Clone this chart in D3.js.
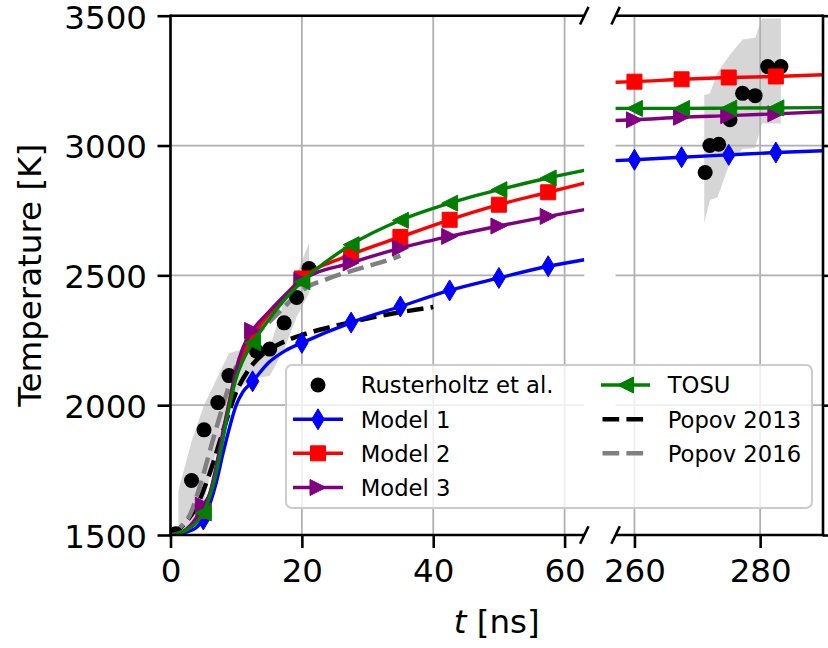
<!DOCTYPE html>
<html><head><meta charset="utf-8">
<script src="https://cdn.jsdelivr.net/npm/d3@7"></script>
<style>body{margin:0;background:#fff}svg{display:block}text{font-family:"DejaVu Sans",sans-serif;fill:#000}</style>
</head><body><svg id="c" width="828" height="648"></svg>
<script>
// ---------------- data ----------------
const xTicksLeft = [0, 20, 40, 60];
const xTicksRight = [260, 280];
const yTicks = [1500, 2000, 2500, 3000, 3500];

const markerTimesLeft = [5, 12.5, 20, 27.5, 35, 42.5, 50, 57.5];
const markerTimesRight = [260, 267.5, 275, 282.5];

const tLeft = [0, 2.5, 4, 5, 6, 7, 8, 9, 10, 11, 12.5, 15, 17.5, 20, 27.5, 35, 42.5, 50, 57.5, 63];
const model1Left = [1500, 1512, 1530, 1560, 1620, 1705, 1815, 1915, 2000, 2050, 2092, 2165, 2210, 2240, 2318, 2380, 2442, 2490, 2535, 2560];
const model2Left = [1500, 1520, 1553, 1592, 1660, 1760, 1890, 2020, 2125, 2195, 2265, 2350, 2425, 2488, 2580, 2648, 2714, 2772, 2820, 2855];
const model3Left = [1500, 1525, 1570, 1615, 1662, 1770, 1900, 2015, 2140, 2220, 2288, 2360, 2425, 2480, 2548, 2605, 2650, 2690, 2727, 2753];
const tosuLeft   = [1500, 1520, 1550, 1585, 1650, 1745, 1870, 2000, 2105, 2170, 2240, 2330, 2410, 2475, 2618, 2712, 2778, 2830, 2875, 2904];

const tRight = [255, 260, 267.5, 275, 282.5, 292];
const model1Right = [2940, 2945, 2955, 2964, 2973, 2982];
const model2Right = [3242, 3246, 3255, 3262, 3266, 3274];
const model3Right = [3095, 3099, 3109, 3115, 3122, 3132];
const tosuRight   = [3143, 3143, 3143, 3144, 3145, 3146];

const popov2013T = [0, 2, 4, 6, 8, 10, 12, 14, 16, 18, 20, 25, 30, 35, 40];
const popov2013V = [1500, 1540, 1612, 1740, 1900, 2050, 2140, 2195, 2228, 2252, 2270, 2305, 2334, 2358, 2378];
const popov2016T = [0, 1.5, 3, 4.5, 6.5, 8, 9.6, 11, 13, 15, 17, 19, 21, 23, 26, 29, 32, 35];
const popov2016V = [1500, 1530, 1580, 1690, 1870, 2000, 2125, 2200, 2270, 2320, 2370, 2420, 2458, 2478, 2505, 2528, 2550, 2575];

const rusterT = [0.8, 3.2, 5.1, 7.2, 8.9, 13.1, 15.1, 17.3, 19.2, 21.1];
const rusterV = [1505, 1710, 1905, 2010, 2114, 2208, 2216, 2317, 2415, 2526];
const rusterTR = [271.25, 272.0, 273.4, 275.2, 277.2, 279.2, 281.2, 283.3];
const rusterVR = [2896, 3000, 3005, 3099, 3201, 3192, 3304, 3304];

const bandT  = [1.2, 3.2, 5.1, 7.2, 8.9, 10.8, 13.1, 15.1, 17.3, 19.2, 21.1];
const bandLo = [1515, 1525, 1630, 1850, 1990, 2073, 2105, 2112, 2214, 2340, 2432];
const bandHi = [1670, 1860, 2000, 2110, 2200, 2214, 2216, 2220, 2400, 2505, 2625];
const bandTR  = [271.1, 272.0, 273.2, 275.2, 277.2, 279.2, 280.3, 283.3];
const bandLoR = [2702, 2790, 2800, 2935, 2987, 2990, 3085, 3085];
const bandHiR = [3195, 3200, 3280, 3350, 3408, 3415, 3489, 3489];

const legendLabels = ["Rusterholtz et al.", "Model 1", "Model 2", "Model 3", "TOSU", "Popov 2013", "Popov 2016"];

// ---------------- layout ----------------
const svg = d3.select('#c');
const yTop = 15.7, yBot = 535, xL0 = 170.5, xL1 = 584.3, xR0 = 615.6, xR1 = 823;
const x1 = d3.scaleLinear().domain([0, 63]).range([xL0, xL1]);
const x2 = d3.scaleLinear().domain([257, 290]).range([xR0, xR1]);
const y = d3.scaleLinear().domain([1500, 3500]).range([yBot, yTop]);
const FS = 32.5, LFS = 22.7;
const gridC = '#b0b0b0', spineW = 2.6;

const defs = svg.append('defs');
defs.append('clipPath').attr('id', 'clipL').append('rect').attr('x', xL0).attr('y', yTop).attr('width', xL1 - xL0).attr('height', yBot - yTop);
defs.append('clipPath').attr('id', 'clipR').append('rect').attr('x', xR0).attr('y', yTop).attr('width', xR1 - xR0).attr('height', yBot - yTop);

function markerPath(kind) {
  switch (kind) {
    case 'd': return 'M0,-10.5L6.3,0L0,10.5L-6.3,0Z';
    case 's': return 'M-7.5,-7.5H7.5V7.5H-7.5Z';
    case '<': return 'M-8,0L8,-8L8,8Z';
    case '>': return 'M8,0L-8,-8L-8,8Z';
    case 'o': return 'M7.5,0A7.5,7.5 0 1 1 -7.5,0A7.5,7.5 0 1 1 7.5,0Z';
  }
}

const series = [
  {name: legendLabels[1], color: '#0000ff', mk: 'd', L: model1Left, R: model1Right},
  {name: legendLabels[2], color: '#ff0000', mk: 's', L: model2Left, R: model2Right},
  {name: legendLabels[3], color: '#800080', mk: '>', L: model3Left, R: model3Right},
  {name: legendLabels[4], color: '#008000', mk: '<', L: tosuLeft, R: tosuRight},
];

function panel(x, clipId, xTicks, isLeft) {
  const g = svg.append('g');
  const bt = isLeft ? bandT : bandTR, blo = isLeft ? bandLo : bandLoR, bhi = isLeft ? bandHi : bandHiR;
  const area = d3.area().x(d => x(d[0])).y0(d => y(d[1])).y1(d => y(d[2]));
  g.append('path').attr('clip-path', `url(#${clipId})`)
    .attr('d', area(bt.map((t, i) => [t, blo[i], bhi[i]]))).attr('fill', '#d6d6d6');
  const [r0, r1] = x.range();
  const grid = g.append('g').attr('stroke', gridC).attr('stroke-width', 1.8);
  xTicks.forEach(t => grid.append('line').attr('x1', x(t)).attr('x2', x(t)).attr('y1', yTop).attr('y2', yBot));
  yTicks.forEach(v => grid.append('line').attr('x1', r0).attr('x2', r1).attr('y1', y(v)).attr('y2', y(v)));

  const content = g.append('g').attr('clip-path', `url(#${clipId})`);
  const line = d3.line().x(d => x(d[0])).y(d => y(d[1])).curve(d3.curveMonotoneX);
  if (isLeft) {
    content.append('path').attr('d', line(popov2013T.map((t, i) => [t, popov2013V[i]])))
      .attr('fill', 'none').attr('stroke', '#000').attr('stroke-width', 4.5).attr('stroke-dasharray', '16.7,7.2');
    content.append('path').attr('d', line(popov2016T.map((t, i) => [t, popov2016V[i]])))
      .attr('fill', 'none').attr('stroke', '#808080').attr('stroke-width', 4.5).attr('stroke-dasharray', '16.7,7.2');
  }
  const rt = isLeft ? rusterT : rusterTR, rv = isLeft ? rusterV : rusterVR;
  rt.forEach((t, i) => content.append('path').attr('d', markerPath('o'))
    .attr('transform', `translate(${x(t)},${y(rv[i])})`).attr('fill', '#000'));
  const ts = isLeft ? tLeft : tRight;
  const mts = isLeft ? markerTimesLeft : markerTimesRight;
  series.forEach(s => {
    const vals = isLeft ? s.L : s.R;
    const pts = ts.map((t, i) => [t, vals[i]]);
    content.append('path').attr('d', line(pts)).attr('fill', 'none').attr('stroke', s.color).attr('stroke-width', 3.4);
    pts.filter(p => mts.includes(p[0])).forEach(p => content.append('path').attr('d', markerPath(s.mk))
      .attr('transform', `translate(${x(p[0])},${y(p[1])})`).attr('fill', s.color).attr('stroke', s.color).attr('stroke-width', 1));
  });

  const ax = g.append('g').attr('transform', `translate(0,${yBot})`)
    .call(d3.axisBottom(x).tickValues(xTicks).tickFormat(d3.format('d')).tickSize(13).tickSizeOuter(0).tickPadding(11));
  const ay = isLeft
    ? g.append('g').attr('transform', `translate(${xL0},0)`).call(d3.axisLeft(y).tickValues(yTicks).tickFormat(d3.format('d')).tickSize(13).tickSizeOuter(0).tickPadding(10.5))
    : g.append('g').attr('transform', `translate(${xR1},0)`).call(d3.axisRight(y).tickValues(yTicks).tickSize(13).tickSizeOuter(0).tickFormat(''));
  [ax, ay].forEach(a => {
    a.select('.domain').remove();
    a.selectAll('line').attr('stroke', '#000').attr('stroke-width', spineW);
    a.selectAll('text').attr('font-size', FS).attr('font-family', '"DejaVu Sans",sans-serif').attr('fill', '#000');
  });
  ay.selectAll('text').attr('dy', '0.38em');
  const sp = g.append('g').attr('stroke', '#000').attr('stroke-width', spineW).attr('stroke-linecap', 'square');
  sp.append('line').attr('x1', r0).attr('x2', r1).attr('y1', yTop).attr('y2', yTop).attr('stroke-linecap', 'butt');
  sp.append('line').attr('x1', r0).attr('x2', r1).attr('y1', yBot).attr('y2', yBot).attr('stroke-linecap', 'butt');
  const xs = isLeft ? r0 : r1;
  sp.append('line').attr('x1', xs).attr('x2', xs).attr('y1', yTop).attr('y2', yBot);
  const bx = isLeft ? r1 : r0;
  [yTop, yBot].forEach(yy => sp.append('line').attr('x1', bx - 4.2).attr('y1', yy + 8.8).attr('x2', bx + 4.2).attr('y2', yy - 8.8).attr('stroke-linecap', 'butt'));
}
panel(x1, 'clipL', xTicksLeft, true);
panel(x2, 'clipR', xTicksRight, false);

const xl = svg.append('text').attr('x', (xL0 + xR1) / 2).attr('y', 632.7).attr('text-anchor', 'middle').attr('font-size', FS);
xl.append('tspan').attr('font-style', 'italic').text('t');
xl.append('tspan').text(' [ns]');
svg.append('text').attr('transform', `translate(41,${(yTop + yBot) / 2}) rotate(-90)`).attr('text-anchor', 'middle')
  .attr('font-size', FS).text('Temperature [K]');

const lg = svg.append('g');
lg.append('rect').attr('x', 286).attr('y', 365).attr('width', 526).attr('height', 143).attr('rx', 6)
  .attr('fill', '#fff').attr('fill-opacity', 0.8).attr('stroke', '#cccccc').attr('stroke-width', 2);
const rows = [385, 419.3, 453.3, 487.5];
const entries = [
  {col: 0, row: 0, type: 'dot'},
  {col: 0, row: 1, s: series[0]},
  {col: 0, row: 2, s: series[1]},
  {col: 0, row: 3, s: series[2]},
  {col: 1, row: 0, s: series[3]},
  {col: 1, row: 1, dash: '#000'},
  {col: 1, row: 2, dash: '#808080'},
];
const cols = [{h0: 293, h1: 343, tx: 360.7}, {h0: 601, h1: 650, tx: 667.7}];
entries.forEach((e, i) => {
  const c = cols[e.col], yy = rows[e.row], cx = (c.h0 + c.h1) / 2;
  if (e.type === 'dot') {
    lg.append('path').attr('d', markerPath('o')).attr('transform', `translate(${cx},${yy})`).attr('fill', '#000');
  } else if (e.s) {
    lg.append('line').attr('x1', c.h0).attr('x2', c.h1).attr('y1', yy).attr('y2', yy).attr('stroke', e.s.color).attr('stroke-width', 3.4);
    lg.append('path').attr('d', markerPath(e.s.mk)).attr('transform', `translate(${cx},${yy})`).attr('fill', e.s.color).attr('stroke', e.s.color).attr('stroke-width', 1);
  } else {
    lg.append('line').attr('x1', c.h0 + 1.5).attr('x2', c.h1).attr('y1', yy).attr('y2', yy).attr('stroke', e.dash).attr('stroke-width', 4.5).attr('stroke-dasharray', '16.7,7.2');
  }
  lg.append('text').attr('x', c.tx).attr('y', yy + 8.2).attr('font-size', LFS).text(legendLabels[i]);
});
</script></body></html>
